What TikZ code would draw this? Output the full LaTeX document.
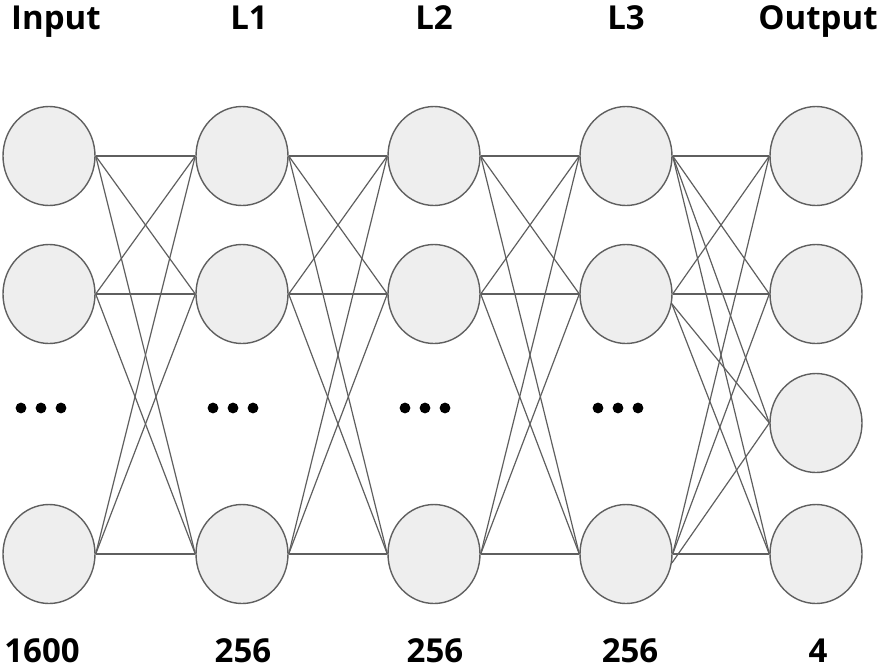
\documentclass[tikz,border=0pt]{standalone}
\usepackage{fontspec}
\setmainfont{Open Sans}
\usetikzlibrary{shapes.geometric}
\definecolor{nfill}{HTML}{EEEEEE}
\definecolor{nline}{HTML}{5F5F5F}
\tikzset{
  neuron/.style={ellipse, draw=nline, fill=nfill, line width=1.4pt, minimum width=92pt, minimum height=99pt, inner sep=0pt},
  link/.style={draw=nline, line width=1.2pt},
  lbl/.style={anchor=base, inner sep=0pt, font=\fontsize{33}{33}\selectfont\bfseries},
  dotc/.style={fill=black}
}
\begin{document}
\begin{tikzpicture}[x=1pt,y=-1pt]
\useasboundingbox (0,0) rectangle (881,670);
% nodes
\foreach \n/\x in {a/49,b/242,c/434,d/626}{
  \node[neuron] (\n1) at (\x,156) {};
  \node[neuron] (\n2) at (\x,294) {};
  \node[neuron] (\n3) at (\x,554) {};
}
\node[neuron] (o1) at (816,156) {};
\node[neuron] (o2) at (816,294) {};
\node[neuron] (o3) at (816,423) {};
\node[neuron] (o4) at (816,554) {};
% connectors
\foreach \p/\q in {a/b,b/c,c/d}{
  \foreach \i in {1,2,3}{
    \foreach \j in {1,2,3}{
      \draw[link] (\p\i.east) -- (\q\j.west);
    }
  }
}
\foreach \j in {1,2,3,4}{\draw[link] (d1.east) -- (o\j.west);}
\draw[link] (d2.east) -- (o1.west);
\draw[link] (d2.east) -- (o2.west);
\draw[link] (d2.-12) -- (o3.west);
\draw[link] (d2.-12) -- (o4.west);
\draw[link] (d3.east) -- (o1.west);
\draw[link] (d3.east) -- (o2.west);
\draw[link] (d3.-11) -- (o3.west);
\draw[link] (d3.east) -- (o4.west);
% dots
\foreach \x in {41,233,425,618}{
  \foreach \dx in {-20,0,20}{
    \fill[dotc] (\x+\dx,408) circle (5.4pt);
  }
}
% labels
\node[lbl] (tin) at (56,29) {Input};
\node[lbl] (t1) at (249,29) {L1};
\node[lbl] (t2) at (434,29) {L2};
\node[lbl] (t3) at (626,29) {L3};
\node[lbl] (tout) at (818,29) {Output};
\node[lbl] (b0) at (42,662) {1600};
\node[lbl] (b1) at (243,662) {256};
\node[lbl] (b2) at (435,662) {256};
\node[lbl] (b3) at (630,662) {256};
\node[lbl] (b4) at (818,662) {4};
\end{tikzpicture}
\end{document}
